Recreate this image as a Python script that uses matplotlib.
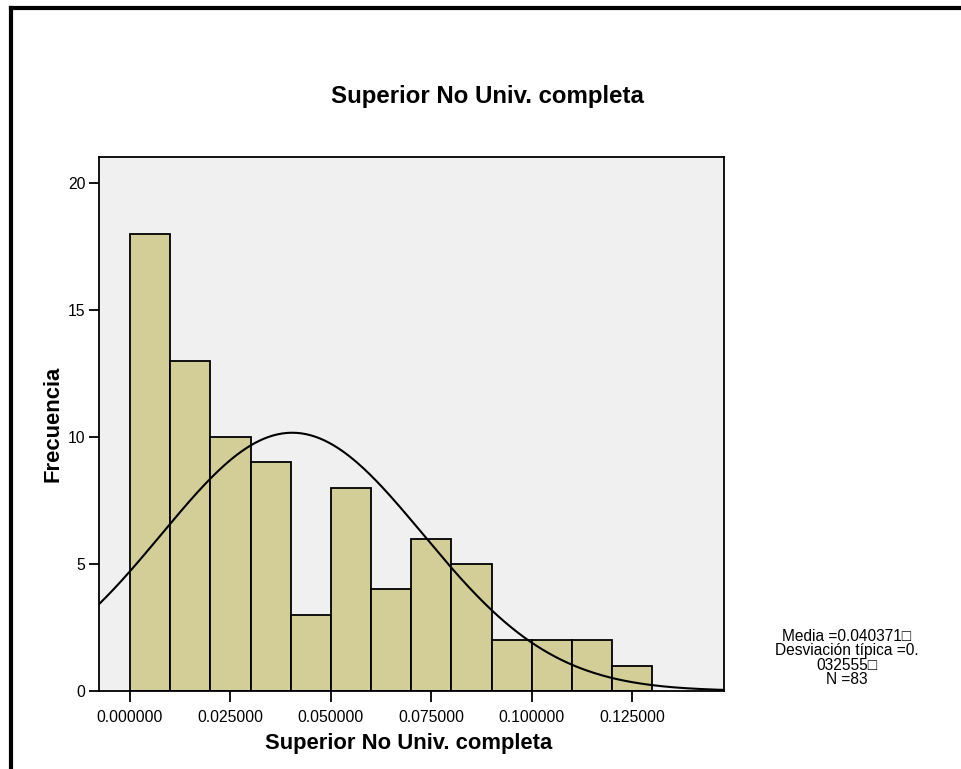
import numpy as np
import matplotlib
matplotlib.use("Agg")
import matplotlib.pyplot as plt
from matplotlib.lines import Line2D

plt.rcParams['font.family'] = ['Liberation Sans', 'DejaVu Sans']

# Data
bin_edges = [0.00, 0.01, 0.02, 0.03, 0.04, 0.05, 0.06, 0.07, 0.08, 0.09, 0.10, 0.11, 0.12, 0.13]
counts = [18, 13, 10, 9, 3, 8, 4, 6, 5, 2, 2, 2, 1]
mean = 0.040371
std = 0.032555
n = 83
xticks = [0.0, 0.025, 0.05, 0.075, 0.1, 0.125]
xtick_labels = ["0.000000", "0.025000", "0.050000", "0.075000", "0.100000", "0.125000"]
yticks = [0, 5, 10, 15, 20]
title = "Superior No Univ. completa"
xlabel = "Superior No Univ. completa"
ylabel = "Frecuencia"
stats_text = "Media =0.040371\u25a1\nDesviación típica =0.\n032555\u25a1\nN =83"

fig = plt.figure(figsize=(9.62, 7.69), dpi=100)
ax = fig.add_axes([99/962, 1-691/769, (724-99)/962, (691-157)/769])
ax.set_facecolor('#F0F0F0')

edges = np.array(bin_edges)
ax.bar(edges[:-1], counts, width=np.diff(edges), align='edge',
       color='#D3CE98', edgecolor='black', linewidth=1.3, zorder=2)

xmin, xmax = -0.0077, 0.1478
xs = np.linspace(xmin, xmax, 400)
binw = edges[1] - edges[0]
ys = n * binw / (std * np.sqrt(2*np.pi)) * np.exp(-0.5*((xs-mean)/std)**2)
ax.plot(xs, ys, color='black', linewidth=1.5, zorder=3)

ax.set_xlim(xmin, xmax)
ax.set_ylim(0, 21.03)
ax.set_xticks(xticks)
ax.set_xticklabels(xtick_labels)
ax.set_yticks(yticks)
ax.tick_params(axis='x', direction='out', length=8, width=1.3, labelsize=11.3, pad=6)
ax.tick_params(axis='y', direction='out', length=7.2, width=1.3, labelsize=11.3, pad=2.5)
for s in ax.spines.values():
    s.set_linewidth(1.3)
    s.set_color('black')

ax.set_xlabel(xlabel, fontsize=15.8, fontweight='bold')
ax.set_ylabel(ylabel, fontsize=15.8, fontweight='bold')
ax.xaxis.set_label_coords((409-99)/625, (691-744)/534)
ax.xaxis.label.set_verticalalignment('center')
ax.yaxis.set_label_coords((53-99)/625, 0.5)
ax.yaxis.label.set_verticalalignment('center')
ax.yaxis.label.set_horizontalalignment('center')

fig.text(487/962, 1-97/769, title, ha='center', va='center', fontsize=17.3, fontweight='bold')
fig.text(847/962, 1-658/769, stats_text, ha='center', va='center', fontsize=11.2,
         linespacing=0.97)

# Frame border (left and top)
fig.add_artist(Line2D([11/962, 11/962], [0, 1-8/769], transform=fig.transFigure,
                      color='black', linewidth=3.0, solid_capstyle='projecting'))
fig.add_artist(Line2D([11/962, 1], [1-8/769, 1-8/769], transform=fig.transFigure,
                      color='black', linewidth=3.0, solid_capstyle='projecting'))

fig.savefig('out.png', dpi=100, facecolor='white')
